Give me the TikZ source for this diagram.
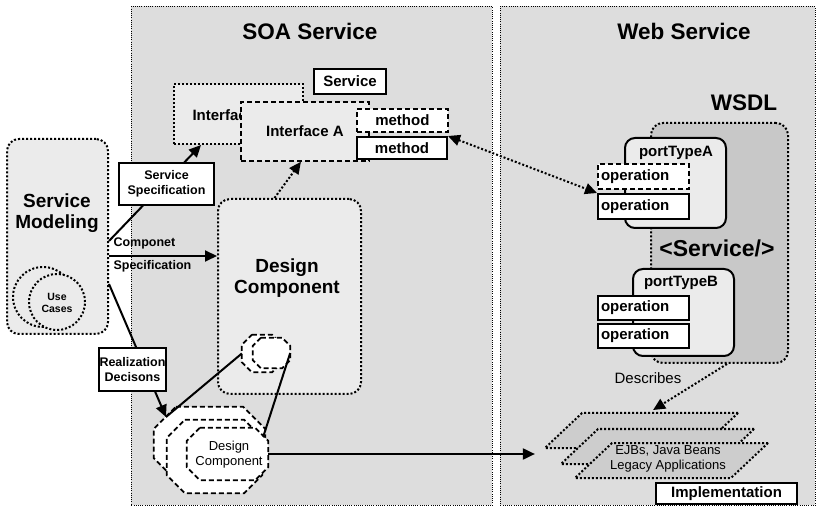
\documentclass[tikz,border=0pt]{standalone}
\usepackage{fontspec}
\setmainfont{Liberation Sans}
\usepackage{tikz}
\usetikzlibrary{positioning, arrows.meta}
\definecolor{panelgray}{HTML}{DDDDDD}
\definecolor{boxgray}{HTML}{EBEBEB}
\definecolor{wsdlgray}{HTML}{C8C8C8}
\definecolor{layergray}{HTML}{CDCDCD}
\newcommand{\drawocta}[2]{\filldraw[octa] ([xshift=#2]#1.north west) -- ([xshift=-#2]#1.north east)
  -- ([yshift=-#2]#1.north east) -- ([yshift=#2]#1.south east) -- ([xshift=-#2]#1.south east)
  -- ([xshift=#2]#1.south west) -- ([yshift=#2]#1.south west) -- ([yshift=-#2]#1.north west) -- cycle;}

\begin{document}
\begin{tikzpicture}[x=1pt,y=-1pt,
   wh/.style 2 args={minimum width=#1pt,minimum height=#2pt,inner sep=0pt},
   title/.style={font=\bfseries\fontsize{22.5}{26}\selectfont},
   big/.style={font=\bfseries\fontsize{19}{23}\selectfont,align=center},
   mid/.style={font=\bfseries\fontsize{15}{18}\selectfont},
   small/.style={font=\bfseries\fontsize{12.5}{15.5}\selectfont,align=center},
   plain/.style={font=\fontsize{13}{15}\selectfont,align=center},
   panel/.style={draw,line width=0.8pt,dash pattern=on 1pt off 1.2pt,fill=panelgray,anchor=north west},
   dotbox/.style={draw,line width=2pt,dash pattern=on 2pt off 2pt,rounded corners=12pt,fill=boxgray,anchor=north west},
   dashbox/.style={draw,line width=1.8pt,dash pattern=on 5pt off 3pt,anchor=north west},
   tagbox/.style={draw,line width=2pt,fill=white,anchor=north west},
   opbox/.style={tagbox,mid,text width=85pt,align=left,inner xsep=3pt,inner ysep=0pt},
   octa/.style={line width=1.8pt,dash pattern=on 5pt off 3pt,fill=white},
   layer/.style={draw,line width=2pt,dash pattern=on 2pt off 2pt,fill=layergray,
     xslant=1.06,transform shape,minimum width=156pt,minimum height=35pt,inner sep=0pt},
   bigarrow/.style={line width=2pt,-{Triangle[length=12pt,width=11pt]}},
   dotarrow/.style={line width=2pt,dash pattern=on 2pt off 2pt,-{Triangle[length=12pt,width=11pt]}}]
\useasboundingbox (0,0) rectangle (822,510);

\node[panel,wh={361}{499}] (soa) at (131,6) {};
\node[panel,wh={315}{499}] (web) at (500,6) {};
\node[title] (soatitle) at (310,31) {SOA Service};
\node[title] (webtitle) at (684,31) {Web Service};

\node[dotbox,wh={101}{195}] (svcmod) at (6,138) {};
\node[big] (svcmodtext) at (57,213) {Service\\[-2pt]Modeling};
\node[draw,circle,line width=2pt,dash pattern=on 2pt off 2pt,fill=boxgray,minimum size=60pt] (uc1) at (43,297) {};
\node[draw,circle,line width=2pt,dash pattern=on 2pt off 2pt,fill=boxgray,minimum size=56pt] (uc2) at (57,302) {};
\node[small,font=\bfseries\fontsize{10.5}{12.5}\selectfont] (uctext) at (57,303) {Use\\Cases};

\node[dotbox,rounded corners=0pt,wh={129}{60}] (ifback) at (173,83) {};
\node[mid,anchor=west] (ifbacktext) at (189,115) {Interface};
\node[dashbox,fill=boxgray,wh={128}{59},mid] (ifA) at (240,101) {Interface A};
\node[tagbox,wh={72}{25},mid] (svctag) at (313,68) {Service};
\node[dashbox,fill=white,wh={91}{23},mid] (meth1) at (356,108) {method};
\node[tagbox,wh={90}{22},mid] (meth2) at (356,136) {method};

\node[dotbox,wh={143}{195}] (dcbox) at (217,198) {};
\node[big] (dctext) at (287,278) {Design\\[-2pt]Component};

\node[wh={40}{37}] (dcsmall1) at (262,353.5) {};
\drawocta{dcsmall1}{10pt}
\node[wh={37}{30}] (dcsmall2) at (271.5,353) {};
\drawocta{dcsmall2}{8pt}

\node[wh={111}{73}] (dcbig1) at (209.5,443.5) {};
\drawocta{dcbig1}{22pt}
\node[wh={95}{73}] (dcbig2) at (214.5,456.5) {};
\drawocta{dcbig2}{18pt}
\node[wh={81}{52}] (dcbig3) at (227.5,454) {};
\drawocta{dcbig3}{13pt}
\node[plain] (dcbig3text) at (229,455) {Design\\Component};
\coordinate (dcjoin) at (166,417);

\draw[bigarrow] ([yshift=-4.5pt]svcmod.east) -- ([xshift=28pt]ifback.south west);
\draw[bigarrow] ([yshift=-19.5pt]svcmod.east) -- ([yshift=-19.5pt]svcmod.east -| dcbox.west);
\node[small,anchor=west] (complbl1) at (110,243) {Componet};
\node[small,anchor=west] (complbl2) at (110,266) {Specification};
\draw[bigarrow] ([yshift=-47.5pt]svcmod.east) -- (dcjoin);
\node[tagbox,wh={95}{42},small] (specbox) at (118,162) {Service\\Specification};
\node[tagbox,wh={67}{43},small] (realbox) at (98,347) {Realization\\Decisons};
\draw[dotarrow] ([xshift=-15pt]dcbox.north) -- ([xshift=-4pt]ifA.south);
\draw[line width=2pt] (dcsmall1.west) -- (dcjoin);
\draw[line width=2pt] (dcsmall2.east) -- ([xshift=-5pt,yshift=-9pt]dcbig3.north east);

\node[title] (wsdltitle) at (744,103) {WSDL};
\node[dotbox,fill=wsdlgray,wh={137}{240}] (wsdl) at (650,122) {};
\node[title,font=\bfseries\fontsize{23}{27}\selectfont] (svcxml) at (717,248) {<Service/>};

\node[tagbox,fill=boxgray,rounded corners=10pt,wh={101}{90}] (ptA) at (624,137) {};
\node[mid] (ptAtext) at (676,153) {portTypeA};
\node[opbox,dash pattern=on 5pt off 3pt,minimum height=25pt] (opA1) at (597,163) {operation};
\node[opbox,minimum height=25pt] (opA2) at (597,193) {operation};

\node[tagbox,fill=boxgray,rounded corners=10pt,wh={101}{87}] (ptB) at (632,268) {};
\node[mid] (ptBtext) at (681,283) {portTypeB};
\node[opbox,minimum height=24pt] (opB1) at (597,295) {operation};
\node[opbox,minimum height=24pt] (opB2) at (597,323) {operation};

\node[layer] (layer1) at (641.5,430.5) {};
\node[layer] (layer2) at (657.5,446.5) {};
\node[layer] (layer3) at (671.5,460.5) {};
\node[plain] (layertext) at (668,459) {EJBs, Java Beans\\Legacy Applications};
\node[tagbox,wh={141}{21},mid] (implbox) at (655,482) {Implementation};
\node[font=\fontsize{15}{18}\selectfont] (desclbl) at (648,378) {Describes};

\draw[dotarrow,{Triangle[length=12pt,width=11pt]}-{Triangle[length=12pt,width=11pt]}] (meth2.north east) -- (opA2.north west);
\draw[dotarrow] ([xshift=-62pt]wsdl.south east) -- ([xshift=-8pt,yshift=2pt]layer1.north);
\draw[bigarrow,shorten >=8pt] (dcbig3.east) -- (dcbig3.east -| layer1.south west);
\end{tikzpicture}
\end{document}
